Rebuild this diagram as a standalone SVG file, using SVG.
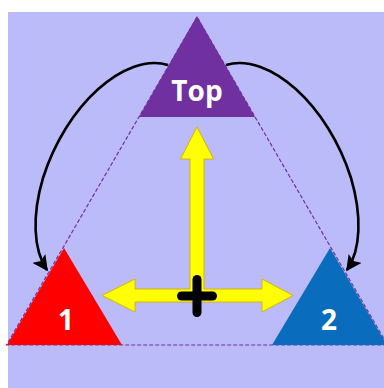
<svg xmlns="http://www.w3.org/2000/svg" width="384" height="388" viewBox="0 0 384 388">
  <defs>
    <marker id="ah" viewBox="0 0 10 10" refX="9" refY="5" markerWidth="6" markerHeight="6" orient="auto" markerUnits="strokeWidth">
      <path d="M0,0 L10,5 L0,10 L2,5 Z" fill="#000"/>
    </marker>
  </defs>
  <style>
    .lbl { font-family: "Open Sans", "Liberation Sans", sans-serif; font-weight: bold; fill: #ffffff; text-anchor: middle; }
    .dash { fill: none; stroke: #7030a0; stroke-width: 1.2; stroke-dasharray: 4 2; }
    .conn { fill: none; stroke: #000; stroke-width: 2.6; marker-end: url(#ah); }
  </style>
  <rect x="0" y="0" width="384" height="388" fill="#ffffff"/>
  <rect x="8" y="12" width="376" height="376" fill="#bbbbfa"/>
  <polygon class="dash" points="197,17 6.5,345 387.5,345"/>
  <g id="connectors">
    <path class="conn" d="M168,65 C 125,52 66,105 43,178 C 32,215 33,250 47,270"/>
    <path class="conn" d="M226,65 C 269,52 328,105 351,178 C 362,215 361,250 347,270"/>
  </g>
  <g id="axes">
    <polygon fill="#ffff00" stroke="#d8b400" stroke-width="1" stroke-linejoin="miter" points="197,127 213.5,159 204,159 204,289 262,289 262,279 293,295.5 262,312 262,302 135,302 135,312 102,295.5 135,279 135,289 190,289 190,159 180.5,159"/>
    <g stroke="#000" stroke-width="9" stroke-linecap="round">
      <line x1="197" y1="279.5" x2="197" y2="312.5"/>
      <line x1="181.5" y1="296" x2="212.5" y2="296"/>
    </g>
  </g>
  <g id="node-top">
    <polygon fill="#7030a0" points="197,16 139,117 255,117"/>
    <text class="lbl" x="197" y="101" font-size="28">Top</text>
  </g>
  <g id="node-1">
    <polygon fill="#ff0000" points="64,248 7,345 122,345"/>
    <text class="lbl" x="66" y="330" font-size="28">1</text>
  </g>
  <g id="node-2">
    <polygon fill="#0a6cbc" points="330,248 272,345 387,345"/>
    <text class="lbl" x="329" y="330" font-size="28">2</text>
  </g>
</svg>
